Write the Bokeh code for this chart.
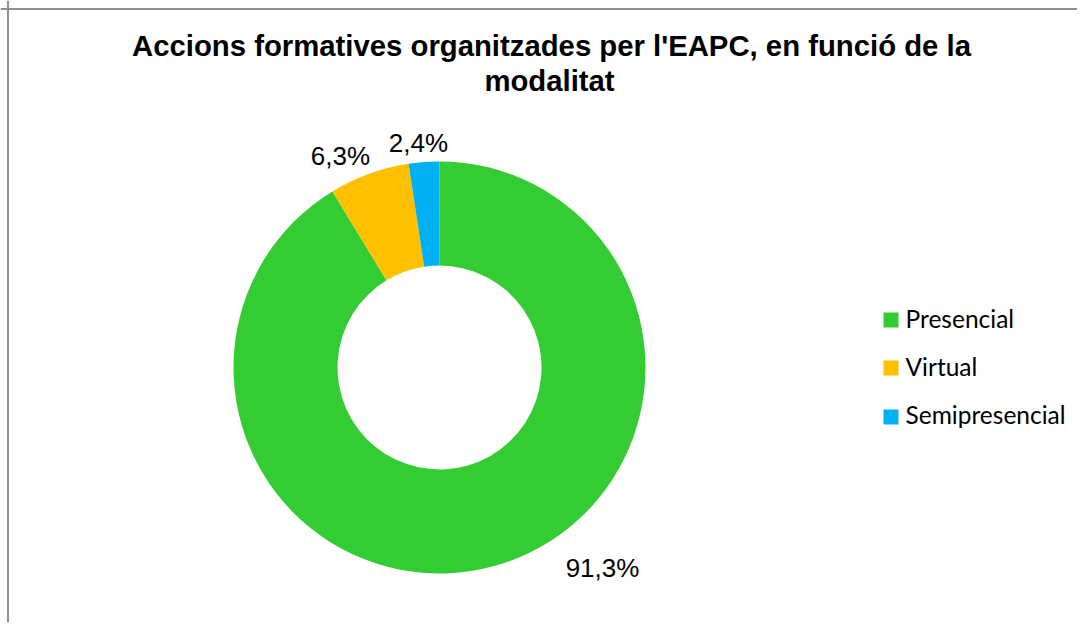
import math
from bokeh.plotting import figure
from bokeh.models import Range1d, ColumnDataSource, Span
from bokeh.core.properties import value
from bokeh.embed import file_html
from bokeh.resources import INLINE

# ---- data ----
categories = ["Presencial", "Virtual", "Semipresencial"]
values = [91.3, 6.3, 2.4]
colors = ["#33CC33", "#FFC000", "#00B0F0"]
title_lines = ["Accions formatives organitzades per l'EAPC, en funció de la", "modalitat"]

# ---- layout (screen-like coordinates; data y = -screen y) ----
W, H = 1077, 622
CX, CY = 439, 367
R_OUT, R_IN = 206, 102
label_pos = [(602, 567), (340, 155), (418, 142)]
legend_sq_x = 890.5
legend_text_x = 905
legend_rows = [319.5, 367.5, 416.5]
legend_baselines = [318, 366, 414]
title_y = [45, 80]

p = figure(width=W, height=H, output_backend="svg", toolbar_location=None,
           x_range=Range1d(0, W), y_range=Range1d(-H, 0),
           min_border=0, outline_line_color=None)
p.axis.visible = False
p.grid.visible = False
p.background_fill_color = "white"
p.border_fill_color = "white"

# donut
total = sum(values)
starts, ends = [], []
cum = 0.0
for v in values:
    starts.append(math.pi / 2 - 2 * math.pi * cum / total)
    cum += v
    ends.append(math.pi / 2 - 2 * math.pi * cum / total)

src = ColumnDataSource(dict(cat=categories, val=values, color=colors,
                            start=starts, end=ends))
p.annular_wedge(x=CX, y=-CY, inner_radius=R_IN, outer_radius=R_OUT,
                start_angle="start", end_angle="end", direction="clock",
                fill_color="color", line_color=None, source=src)

# data labels
lab_src = ColumnDataSource(dict(
    x=[q[0] for q in label_pos], y=[-q[1] for q in label_pos],
    t=[("%.1f" % v).replace(".", ",") + "%" for v in values]))
p.text(x="x", y="y", text="t", source=lab_src, text_font=value("Liberation Sans"),
       text_font_size="26px", text_align="center", text_baseline="alphabetic",
       text_color="#000000")

# title
p.text(x=[551, 549], y=[-t for t in title_y], text=title_lines,
       text_font=value("Liberation Sans"), text_font_style="bold",
       text_font_size="29.3px", text_align="center", text_baseline="alphabetic",
       text_color="#000000")

# legend
p.scatter(x=[legend_sq_x] * 3, y=[-r for r in legend_rows], marker="square",
          size=15, fill_color=colors, line_color=None)
p.text(x=[legend_text_x] * 3, y=[-b for b in legend_baselines], text=categories,
       text_font=value("Lato"), text_font_size="24.5px", text_align="left",
       text_baseline="alphabetic", text_color="#000000")

# chart area border (left and top visible)
p.add_layout(Span(location=7.5, dimension="height", line_color="#8f8f8f", line_width=2))
p.add_layout(Span(location=-8.5, dimension="width", line_color="#8f8f8f", line_width=2))

open("out.html", "w").write(file_html(p, INLINE))
